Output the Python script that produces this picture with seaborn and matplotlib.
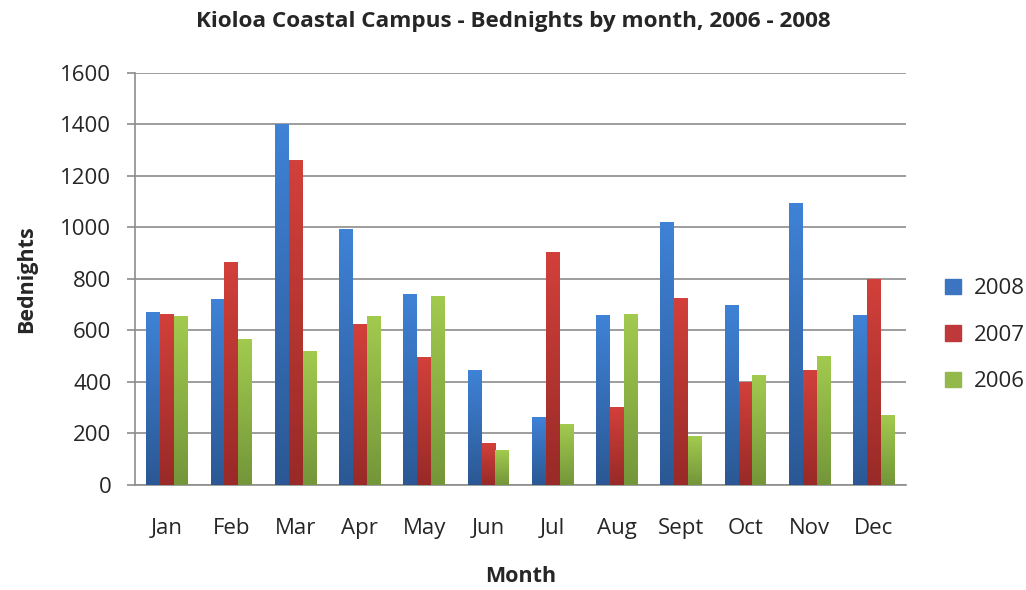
import numpy as np
import pandas as pd
import matplotlib
matplotlib.use("Agg")
import matplotlib.pyplot as plt
import matplotlib.colors as mcolors
import seaborn as sns

months = ["Jan", "Feb", "Mar", "Apr", "May", "Jun", "Jul", "Aug", "Sept", "Oct", "Nov", "Dec"]
years = ["2008", "2007", "2006"]
beds_2008 = [668, 718, 1400, 991, 738, 444, 261, 658, 1020, 698, 1094, 658]
beds_2007 = [663, 863, 1260, 624, 495, 161, 902, 301, 722, 397, 444, 798]
beds_2006 = [652, 565, 519, 652, 733, 133, 236, 663, 190, 425, 500, 270]

# light top / dark bottom for each series (gradient fill like the original)
top_cols = ["#3f82d6", "#d2403b", "#a2ca4e"]
bot_cols = ["#2b5894", "#982a27", "#74963a"]
legend_cols = ["#3b74c0", "#c0393a", "#93b94a"]

df = pd.DataFrame({
    "Month": months * 3,
    "Year": [y for y in years for _ in months],
    "Bednights": beds_2008 + beds_2007 + beds_2006,
})

sns.set_style("white")
plt.rcParams["font.family"] = ["Open Sans", "DejaVu Sans"]

fig = plt.figure(figsize=(10.26, 5.90), dpi=100)
ax = fig.add_axes([0.1316, 0.178, 0.7515, 0.699])

sns.barplot(data=df, x="Month", y="Bednights", hue="Year", order=months,
            hue_order=years, palette=legend_cols, width=0.645, ax=ax,
            legend=False, zorder=3)

# gradient bars
for i, cont in enumerate(ax.containers):
    cmap = mcolors.LinearSegmentedColormap.from_list("g", [bot_cols[i], top_cols[i]])
    for bar in cont:
        x, w, h = bar.get_x(), bar.get_width(), bar.get_height()
        grad = np.linspace(0, 1, 100).reshape(-1, 1)
        ax.imshow(grad, extent=[x, x + w, 0, h], origin="lower", aspect="auto",
                  cmap=cmap, zorder=3)
        bar.set_alpha(0)

ax.set_xlim(-0.5, 11.5)
ax.set_ylim(0, 1600)
ax.set_yticks(range(0, 1601, 200))
ax.yaxis.grid(True, color="#8c8c8c", linewidth=1.2, zorder=0)
ax.set_axisbelow(True)

for s in ["top", "right"]:
    ax.spines[s].set_visible(False)
ax.spines["left"].set_color("#8c8c8c")
ax.spines["bottom"].set_color("#8c8c8c")
ax.spines["left"].set_linewidth(1.2)
ax.spines["bottom"].set_linewidth(1.2)
ax.tick_params(axis="y", direction="out", length=6, width=1.2, color="#8c8c8c",
               labelsize=16, pad=11, left=True)
ax.tick_params(axis="x", length=0, labelsize=16, pad=24)

fig.suptitle("Kioloa Coastal Campus - Bednights by month, 2006 - 2008",
             x=0.5, y=0.963, va="center", fontsize=16.2, fontweight="bold")
ax.set_xlabel("Month", fontsize=15.5, fontweight="bold", labelpad=19)
ax.set_ylabel("Bednights", fontsize=15.5, fontweight="bold", labelpad=17)

handles = [plt.Rectangle((0, 0), 1, 1, color=c) for c in legend_cols]
fig.legend(handles, years, loc="center left", bbox_to_anchor=(0.902, 0.432),
           frameon=False, fontsize=16, handlelength=0.7, handleheight=0.7,
           handletextpad=0.6, labelspacing=1.15)

fig.savefig("out.png", dpi=100)
